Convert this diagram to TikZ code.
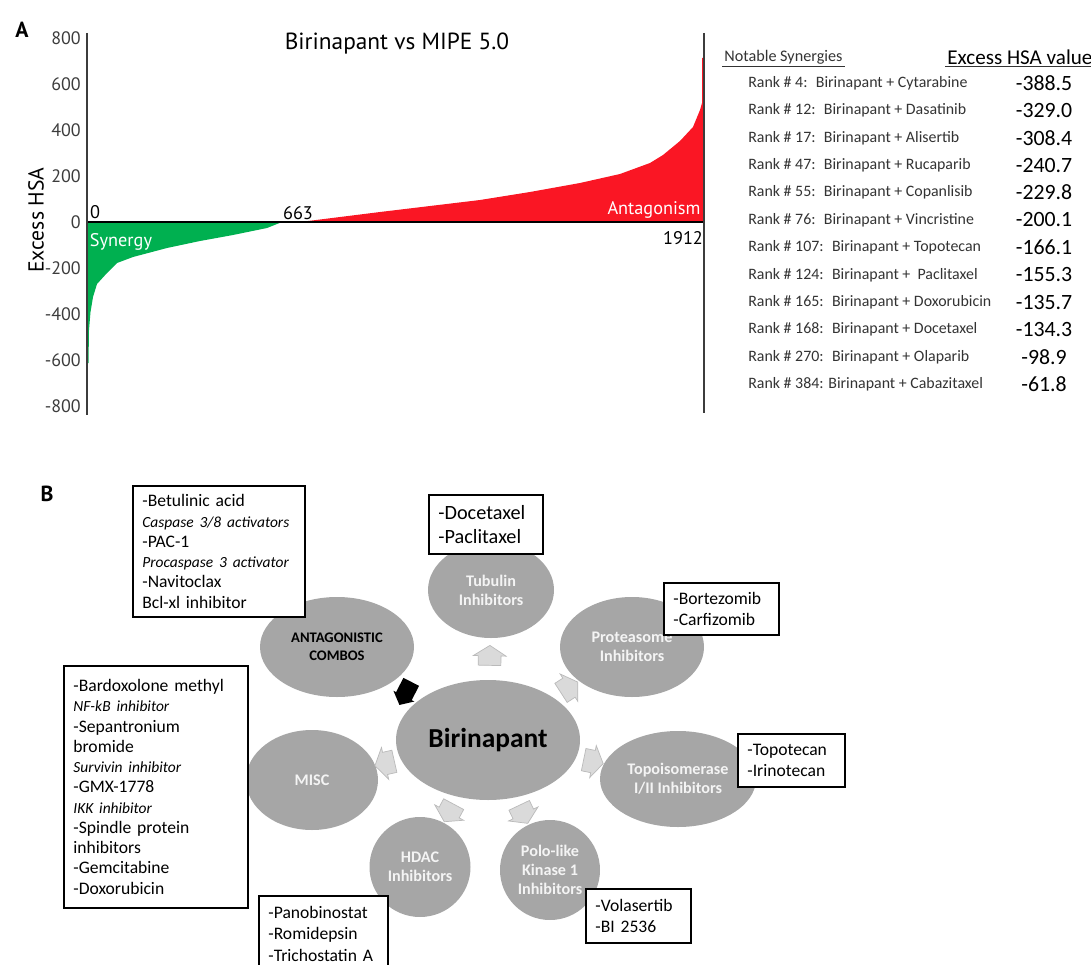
\documentclass[tikz,border=0pt]{standalone}
\usepackage{fontspec}
\setmainfont{Carlito}
\newfontfamily\chartfont{PT Sans}
\usetikzlibrary{shapes.geometric, shapes.arrows, positioning, calc}
\newlength\pxu
\setlength\pxu{0.025cm}
\definecolor{cSyn}{RGB}{0,176,80}
\definecolor{cAnt}{RGB}{250,22,36}
\definecolor{cBubble}{RGB}{166,166,166}
\definecolor{cBubbleText}{RGB}{244,244,244}
\definecolor{cArrow}{RGB}{218,218,218}
\definecolor{cArrowEdge}{RGB}{186,186,186}
\definecolor{cAxis}{RGB}{60,60,60}
\newcommand{\fs}[2]{\fontsize{#1}{#2}\selectfont}
\newcommand{\drugclass}[1]{{\itshape\fs{11}{14.4}#1}}
\tikzset{
	% chart styles
	axisline/.style ={line width=1.1pt, cAxis},
	zeroline/.style ={line width=1.4pt, black},
	ticklab/.style  ={anchor=east, inner sep=0pt, text=cAxis, font=\chartfont\fs{12.8}{14}},
	chartlab/.style ={inner sep=0pt, font=\chartfont\fs{13}{15}},
	panel/.style    ={inner sep=0pt, font=\chartfont\bfseries\fs{15.5}{17}},
	% table styles
	rowlab/.style   ={anchor=west, inner sep=0pt, text=black!80, font=\fs{11.3}{13}},
	vallab/.style   ={inner sep=0pt, font=\fs{15.5}{17}},
	ulline/.style   ={line width=0.9pt, black!80},
	% scheme styles
	bubble/.style   ={ellipse, fill=cBubble, inner sep=0pt, align=center, text=cBubbleText, font=\bfseries\fs{11.5}{13.4}},
	drugbox/.style  ={rectangle, draw=black, line width=1.3pt, fill=white, anchor=north west, align=left, inner xsep=9.5\pxu, inner ysep=0pt, font=\fs{12.5}{15.5}},
	garrow/.style   ={single arrow, single arrow head extend=5\pxu, single arrow tip angle=115, inner xsep=6\pxu, inner ysep=11\pxu, fill=cArrow, draw=cArrowEdge, line width=0.5pt, sloped, allow upside down},
	karrow/.style   ={single arrow, single arrow head extend=3\pxu, single arrow tip angle=100, inner xsep=9\pxu, inner ysep=8.5\pxu, fill=black},
}
\begin{document}
\begin{tikzpicture}[x=0.025cm, y=-0.025cm]
	\useasboundingbox (0,0) rectangle (1091,965);

	% ---------- panel A: ranked excess HSA ----------
	\node[panel] (labA) at (22,30) {A};
	\node[chartlab, font=\chartfont\fs{16.6}{18}] (title) at (397,44) {Birinapant vs MIPE 5.0};
	\fill[cSyn] (87,222) -- (87,363) -- (88.5,363) -- (89,330) -- (90.5,312) -- (93,297) -- (97,284) -- (107,273)
		-- (117,263) -- (133,257) -- (167,248) -- (200,241) -- (233,235) -- (267,228) -- (282,222) -- cycle;
	\fill[cAnt] (300,222) -- (340,217) -- (380,212) -- (430,206) -- (480,200) -- (530,192) -- (580,183)
		-- (620,174) -- (650,163) -- (663,155) -- (680,141) -- (693,127) -- (700,110) -- (702,103)
		-- (702,58) -- (704,58) -- (704,222) -- cycle;
	\draw[zeroline] (87,222) -- (704,222);
	\draw[axisline] (87,33) -- (87,415);
	\draw[axisline] (704,33) -- (704,413);
	\foreach \v in {-800,-600,...,800}
		\node[ticklab] (tick\v) at (81,{222-0.23*\v}) {\v};
	\node[chartlab, rotate=90, font=\chartfont\fs{15.4}{17}] (ylab) at (36,220) {Excess HSA};
	\node[chartlab] (n0) at (95,212) {0};
	\node[chartlab] (n663) at (298,213) {663};
	\node[chartlab] (n1912) at (683,238) {1912};
	\node[chartlab, text=white] (syn) at (121,242) {Synergy};
	\node[chartlab, text=white] (ant) at (654,210) {Antagonism};

	% notable synergies table
	\node[rowlab, inner sep=1.5pt, font=\fs{11.5}{13}] (ns) at (722,57) {Notable Synergies};
	\draw[ulline] (ns.south west) -- (ns.south east);
	\node[rowlab, inner sep=1.5pt, text=black, font=\fs{15}{17}] (ehv) at (945,57) {Excess HSA value};
	\draw[ulline] (ehv.south west) -- (ehv.south east);
	\foreach \rk/\val [count=\i] in {
		Rank \# 4:~ Birinapant + Cytarabine/-388.5,
		Rank \# 12:~ Birinapant + Dasatinib/-329.0,
		Rank \# 17:~ Birinapant + Alisertib/-308.4,
		Rank \# 47:~ Birinapant + Rucaparib/-240.7,
		Rank \# 55:~ Birinapant + Copanlisib/-229.8,
		Rank \# 76:~ Birinapant + Vincristine/-200.1,
		Rank \# 107:~ Birinapant + Topotecan/-166.1,
		Rank \# 124:~ Birinapant +~ Paclitaxel/-155.3,
		Rank \# 165:~ Birinapant + Doxorubicin/-135.7,
		Rank \# 168:~ Birinapant + Docetaxel/-134.3,
		Rank \# 270:~ Birinapant + Olaparib/-98.9,
		Rank \# 384: Birinapant + Cabazitaxel/-61.8}
	{
		\node[rowlab] (row\i) at (748,{83+(\i-1)*27.4}) {\rk};
		\node[vallab] (val\i) at (1044,{83+(\i-1)*27.4}) {\val};
	}

	% ---------- panel B: scheme ----------
	\node[panel] (labB) at (47,494) {B};
	\node[bubble, minimum width=154\pxu, minimum height=100\pxu, text=black, font=\bfseries\fs{10.4}{12.8}] (antag) at (337,647) {ANTAGONISTIC\\COMBOS};
	\node[bubble, minimum width=126\pxu, minimum height=96\pxu] (tub) at (491,590) {Tubulin\\Inhibitors};
	\node[bubble, minimum width=144\pxu, minimum height=100\pxu] (prot) at (632,647) {Proteasome\\Inhibitors};
	\node[bubble, minimum width=156\pxu, minimum height=96\pxu] (topo) at (678,779) {Topoisomerase\\I/II Inhibitors};
	\node[bubble, minimum width=100\pxu, minimum height=100\pxu] (polo) at (550,870) {Polo-like\\Kinase 1\\Inhibitors};
	\node[bubble, minimum width=101\pxu, minimum height=100\pxu] (hdac) at (420,867) {HDAC\\Inhibitors};
	\node[bubble, minimum width=132\pxu, minimum height=100\pxu] (misc) at (312,780) {MISC};
	\node[bubble, minimum width=184\pxu, minimum height=120\pxu, text=black, font=\bfseries\fs{19.5}{22}] (bir) at (488,740) {Birinapant};

	% block arrows
	\path (bir) -- node[garrow] (arTub) {} (tub);
	\path (bir) -- node[garrow] (arProt) {} (prot);
	\path (bir) -- node[garrow] (arTopo) {} (topo);
	\path (bir) -- node[garrow] (arPolo) {} (polo);
	\path (bir) -- node[garrow] (arHdac) {} (hdac);
	\path (bir) -- node[garrow] (arMisc) {} (misc);
	\path (antag) -- node[karrow, rotate=243] (arAnt) {} (bir);

	% drug boxes
	\node[drugbox, text width=153\pxu, minimum height=131\pxu, font=\fs{12.5}{14.4}] (boxAnt) at (132,485)
		{-Betulinic acid\\ \drugclass{Caspase 3/8 activators}\\ -PAC-1\\ \drugclass{Procaspase 3 activator}\\ -Navitoclax\\ Bcl-xl inhibitor};
	\node[drugbox, text width=95\pxu, minimum height=59\pxu, font=\fs{14.4}{17}] (boxTub) at (428,494)
		{-Docetaxel\\ -Paclitaxel};
	\node[drugbox, text width=96\pxu, minimum height=52\pxu] (boxProt) at (663,582)
		{-Bortezomib\\ -Carfizomib};
	\node[drugbox, text width=88\pxu, minimum height=53\pxu] (boxTopo) at (737,733)
		{-Topotecan\\ -Irinotecan};
	\node[drugbox, text width=86\pxu, minimum height=54\pxu] (boxPolo) at (585,888)
		{-Volasertib\\ -BI 2536};
	\node[drugbox, text width=110\pxu, minimum height=76\pxu, font=\fs{12.5}{15}] (boxHdac) at (258,895)
		{-Panobinostat\\ -Romidepsin\\ -Trichostatin A};
	\node[drugbox, text width=165\pxu, minimum height=242\pxu, font=\fs{12.5}{14.4}] (boxMisc) at (63,665)
		{-Bardoxolone methyl\\ \drugclass{NF-kB inhibitor}\\ -Sepantronium\\ bromide\\ \drugclass{Survivin inhibitor}\\ -GMX-1778\\ \drugclass{IKK inhibitor}\\ -Spindle protein\\ inhibitors\\ -Gemcitabine\\ -Doxorubicin};
\end{tikzpicture}
\end{document}
